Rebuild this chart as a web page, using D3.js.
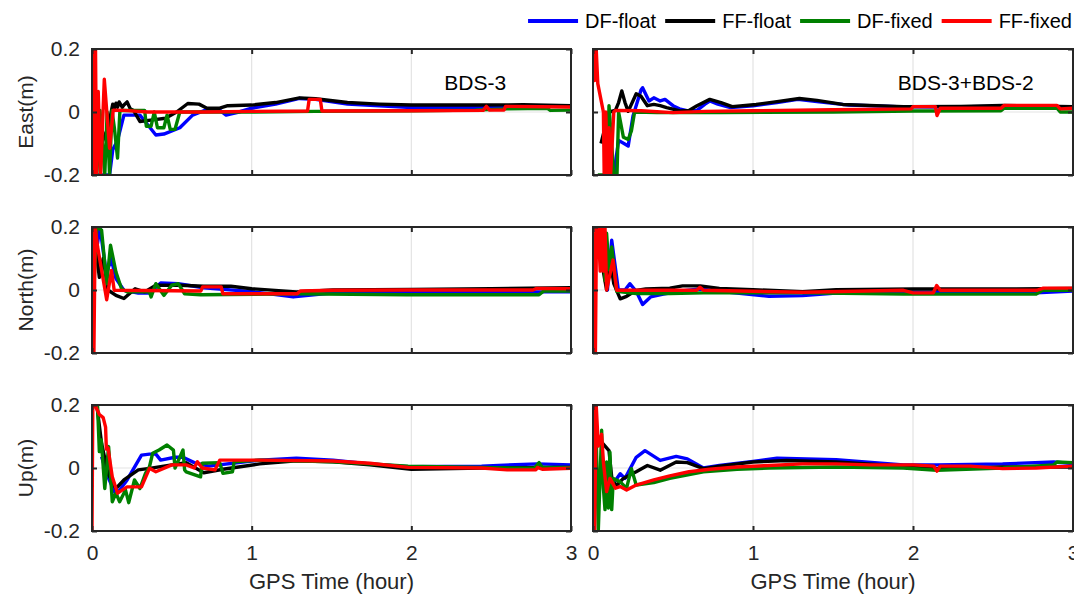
<!DOCTYPE html>
<html>
<head>
<meta charset="utf-8">
<script src="https://cdn.jsdelivr.net/npm/d3@7"></script>
<style>
  html, body { margin: 0; padding: 0; background: #fff; }
  svg { display: block; font-family: "Liberation Sans", Arial, sans-serif; }
</style>
</head>
<body>
<svg id="chart" width="1074" height="596"></svg>
<script>
// ---- Data: [GPS time (hour), error (m)] ----
const seriesNames = ["DF-float", "FF-float", "DF-fixed", "FF-fixed"];
const seriesColors = ["#0000ff", "#000000", "#008000", "#ff0000"];
const rowLabels = ["East(m)", "North(m)", "Up(m)"];
const colTitles = ["BDS-3", "BDS-3+BDS-2"];
const xTicks = [0, 1, 2, 3];
const yTicks = [-0.2, 0, 0.2];

// East, BDS-3
const eastB3_DFfloat = [[0.03,-0.2],[0.06,-0.2],[0.11,-0.2],[0.13,-0.12],[0.16,-0.09],[0.2,-0.01],[0.3,-0.01],[0.34,-0.035],[0.4,-0.073],[0.45,-0.07],[0.55,-0.05],[0.63,-0.01],[0.72,0.008],[0.8,0.006],[0.84,-0.01],[0.92,0.0],[1.0,0.012],[1.15,0.025],[1.3,0.043],[1.4,0.04],[1.6,0.025],[2.0,0.014],[2.4,0.015],[2.7,0.02],[3.0,0.018]];
const eastB3_FFfloat = [[0,-0.2],[0.03,0.05],[0.06,-0.1],[0.1,-0.05],[0.13,0.025],[0.14,0.012],[0.15,0.028],[0.16,0.015],[0.17,0.032],[0.19,0.015],[0.2,0.022],[0.22,0.032],[0.24,0.01],[0.26,0.005],[0.3,-0.03],[0.38,-0.025],[0.46,-0.02],[0.53,0.0],[0.6,0.027],[0.67,0.025],[0.72,0.012],[0.8,0.012],[0.85,0.02],[1.0,0.022],[1.15,0.03],[1.3,0.045],[1.4,0.042],[1.6,0.03],[1.8,0.025],[2.0,0.022],[2.4,0.022],[2.7,0.023],[3.0,0.02]];
const eastB3_DFfixed = [[0.03,-0.2],[0.05,0.005],[0.065,-0.1],[0.08,-0.2],[0.095,0.0],[0.11,-0.2],[0.125,0.005],[0.14,-0.05],[0.16,-0.146],[0.175,0.005],[0.33,0.005],[0.34,-0.045],[0.37,-0.045],[0.39,0.0],[0.41,-0.05],[0.45,-0.05],[0.47,-0.01],[0.49,-0.055],[0.52,-0.055],[0.55,0.0],[0.8,0.0],[1.0,0.0],[1.4,0.002],[2.0,0.004],[2.4,0.006],[2.6,0.01],[2.85,0.012],[2.87,0.005],[3.0,0.006]];
const eastB3_FFfixed = [[0,0.2],[0.005,-0.2],[0.01,0.2],[0.015,-0.2],[0.022,0.2],[0.028,-0.2],[0.039,0.065],[0.054,-0.2],[0.077,0.104],[0.11,-0.115],[0.133,0.006],[0.2,0.005],[0.35,0.0],[0.7,0.0],[1.0,0.002],[1.35,0.003],[1.36,0.04],[1.43,0.04],[1.44,0.003],[2.0,0.004],[2.45,0.005],[2.47,0.018],[2.49,0.006],[2.58,0.006],[2.59,0.018],[3.0,0.016]];

// East, BDS-3+BDS-2
const eastB32_DFfloat = [[0.06,-0.2],[0.13,-0.2],[0.16,-0.09],[0.22,-0.108],[0.25,-0.013],[0.3,0.07],[0.31,0.077],[0.35,0.035],[0.38,0.045],[0.42,0.035],[0.45,0.04],[0.5,0.02],[0.54,0.01],[0.6,0.003],[0.65,0.005],[0.7,0.025],[0.73,0.035],[0.78,0.025],[0.86,0.014],[1.0,0.02],[1.15,0.03],[1.28,0.04],[1.4,0.033],[1.6,0.022],[1.9,0.017],[2.2,0.016],[2.5,0.018],[2.8,0.016],[3.0,0.014]];
const eastB32_FFfloat = [[0.05,-0.1],[0.1,0.0],[0.14,0.005],[0.16,0.03],[0.18,0.067],[0.2,0.03],[0.22,0.002],[0.27,0.058],[0.3,0.05],[0.34,0.02],[0.38,0.024],[0.42,0.02],[0.46,0.014],[0.55,0.003],[0.6,0.005],[0.65,0.02],[0.73,0.04],[0.8,0.03],[0.87,0.017],[1.02,0.024],[1.15,0.033],[1.29,0.043],[1.4,0.037],[1.56,0.024],[1.94,0.017],[2.3,0.018],[2.56,0.021],[3.0,0.017]];
const eastB32_DFfixed = [[0.03,-0.2],[0.09,-0.2],[0.1,0.02],[0.11,-0.05],[0.13,-0.2],[0.15,-0.2],[0.16,0.0],[0.19,-0.08],[0.22,-0.087],[0.24,-0.06],[0.26,0.0],[0.4,-0.002],[0.8,-0.002],[1.5,0.0],[2.0,0.003],[2.55,0.004],[2.57,0.012],[2.9,0.012],[2.92,0.0],[3.0,0.0]];
const eastB32_FFfixed = [[0,0.2],[0.01,0.1],[0.02,0.2],[0.03,0.09],[0.065,0.0],[0.07,-0.2],[0.08,0.0],[0.09,-0.2],[0.1,-0.05],[0.11,-0.2],[0.13,0.0],[0.14,0.005],[0.3,0.004],[0.5,-0.002],[0.7,0.002],[1.0,0.004],[1.5,0.007],[1.99,0.01],[2.0,0.017],[2.14,0.017],[2.15,-0.011],[2.17,0.012],[2.55,0.012],[2.57,0.021],[2.9,0.021],[2.92,0.01],[3.0,0.012]];

// North, BDS-3
const northB3_DFfloat = [[0,0.2],[0.02,0.1],[0.05,0.2],[0.09,0.05],[0.12,0.1],[0.15,0.036],[0.2,-0.001],[0.29,-0.01],[0.36,-0.01],[0.43,0.022],[0.54,0.02],[0.7,0.007],[1.0,-0.005],[1.26,-0.022],[1.5,-0.01],[2.0,-0.006],[2.5,-0.006],[3.0,-0.006]];
const northB3_FFfloat = [[0.02,0.15],[0.046,0.04],[0.07,0.1],[0.1,0.0],[0.15,-0.017],[0.2,-0.027],[0.27,0.004],[0.33,-0.006],[0.4,0.015],[0.55,0.015],[0.7,0.012],[0.87,0.012],[1.0,0.004],[1.28,-0.006],[1.51,0.0],[2.0,0.002],[2.5,0.004],[3.0,0.007]];
const northB3_DFfixed = [[0,-0.2],[0.003,-0.075],[0.03,0.2],[0.06,0.19],[0.092,0.02],[0.116,0.142],[0.15,0.057],[0.185,0.004],[0.22,-0.006],[0.36,-0.006],[0.37,-0.022],[0.4,0.02],[0.45,-0.017],[0.5,0.015],[0.54,0.02],[0.58,-0.012],[0.68,-0.015],[1.28,-0.012],[1.97,-0.015],[2.8,-0.015],[2.83,-0.003],[3.0,-0.003]];
const northB3_FFfixed = [[0,0.2],[0.005,-0.2],[0.012,-0.2],[0.02,0.2],[0.035,0.137],[0.092,-0.031],[0.122,0.062],[0.139,-0.001],[0.682,-0.003],[0.693,0.01],[0.809,0.01],[0.82,-0.012],[1.283,-0.012],[1.306,-0.003],[1.514,-0.001],[1.976,0.0],[2.762,0.0],[2.785,0.005],[3.0,0.004]];

// North, BDS-3+BDS-2
const northB32_DFfloat = [[0.06,0.15],[0.09,0.0],[0.117,0.158],[0.158,0.001],[0.2,0.0],[0.23,0.02],[0.27,-0.004],[0.31,-0.046],[0.36,-0.022],[0.44,-0.013],[0.54,-0.004],[0.67,0.003],[0.79,-0.004],[1.1,-0.02],[1.31,-0.018],[1.52,-0.01],[1.94,-0.007],[2.77,-0.009],[3.0,-0.003]];
const northB32_FFfloat = [[0.05,0.1],[0.085,0.0],[0.106,0.1],[0.13,0.02],[0.17,-0.028],[0.21,-0.02],[0.27,-0.001],[0.33,0.003],[0.48,0.006],[0.56,0.013],[0.67,0.013],[0.79,0.005],[1.0,0.001],[1.31,-0.005],[1.52,0.001],[2.0,0.003],[2.5,0.003],[3.0,0.005]];
const northB32_DFfixed = [[0.03,0.2],[0.065,0.2],[0.075,0.03],[0.085,0.18],[0.1,0.064],[0.117,0.137],[0.148,-0.004],[0.27,-0.011],[0.48,-0.011],[0.69,-0.009],[1.31,-0.009],[1.94,-0.013],[2.77,-0.013],[2.81,-0.001],[3.0,-0.001]];
const northB32_FFfixed = [[0,0.2],[0.005,-0.2],[0.015,-0.2],[0.022,0.2],[0.033,0.2],[0.045,0.06],[0.055,0.2],[0.065,0.06],[0.075,0.2],[0.085,0.0],[0.125,0.095],[0.148,-0.001],[0.648,-0.001],[0.669,0.009],[0.69,-0.001],[1.0,-0.004],[1.315,-0.007],[1.94,-0.001],[2.0,-0.009],[2.127,-0.009],[2.148,0.014],[2.17,-0.001],[2.773,-0.001],[2.815,0.006],[3.0,0.006]];

// Up, BDS-3
const upB3_DFfloat = [[0.06,0.036],[0.1,-0.028],[0.15,-0.086],[0.22,-0.038],[0.31,0.041],[0.36,0.044],[0.4,0.044],[0.43,0.025],[0.52,0.034],[0.57,0.034],[0.64,0.017],[0.73,0.006],[1.05,0.025],[1.28,0.031],[1.51,0.025],[1.74,0.013],[1.98,0.004],[2.44,0.006],[2.79,0.013],[3.0,0.01]];
const upB3_FFfloat = [[0.03,0.2],[0.06,0.078],[0.1,-0.017],[0.15,-0.065],[0.2,-0.038],[0.29,-0.006],[0.36,-0.001],[0.5,0.01],[0.59,0.017],[0.7,-0.015],[0.82,-0.004],[1.05,0.013],[1.28,0.023],[1.51,0.02],[1.74,0.01],[2.0,-0.004],[2.44,0.0],[3.0,0.002]];
const upB3_DFfixed = [[0.01,0.2],[0.035,0.195],[0.046,0.052],[0.058,0.089],[0.08,-0.065],[0.104,0.068],[0.127,-0.107],[0.15,-0.08],[0.173,-0.107],[0.21,-0.07],[0.23,-0.11],[0.266,-0.038],[0.3,-0.065],[0.335,-0.017],[0.36,0.004],[0.38,0.047],[0.42,0.057],[0.47,0.073],[0.51,0.057],[0.52,0.0],[0.57,0.057],[0.58,-0.006],[0.59,-0.012],[0.68,-0.028],[0.69,0.015],[0.8,0.017],[0.82,-0.017],[0.88,-0.012],[0.89,0.02],[1.05,0.025],[1.51,0.02],[1.98,0.006],[2.44,0.002],[2.77,-0.001],[2.8,0.017],[2.82,0.002],[3.0,0.002]];
const upB3_FFfixed = [[0,-0.2],[0.005,0.2],[0.023,0.195],[0.046,0.17],[0.07,0.16],[0.085,0.13],[0.09,0.06],[0.1,0.064],[0.127,-0.028],[0.16,-0.08],[0.22,-0.06],[0.31,-0.06],[0.36,-0.001],[0.4,-0.012],[0.5,0.01],[0.59,0.01],[0.64,0.0],[0.66,0.02],[0.69,0.0],[0.77,-0.006],[0.8,0.025],[1.05,0.025],[1.51,0.022],[1.74,0.015],[1.98,0.002],[2.44,0.0],[2.6,-0.006],[2.78,-0.006],[2.79,0.002],[2.82,-0.004],[3.0,-0.001]];

// Up, BDS-3+BDS-2
const upB32_DFfloat = [[0.08,0.0],[0.127,-0.049],[0.17,-0.018],[0.2,-0.033],[0.27,0.034],[0.325,0.055],[0.42,0.024],[0.52,0.037],[0.59,0.029],[0.69,0.0],[0.79,0.008],[1.0,0.021],[1.15,0.031],[1.52,0.026],[1.94,0.01],[2.15,0.01],[2.56,0.013],[2.88,0.019],[3.0,0.014]];
const upB32_FFfloat = [[0.01,0.112],[0.04,0.09],[0.1,0.055],[0.12,-0.044],[0.15,-0.054],[0.19,-0.033],[0.27,-0.012],[0.34,0.008],[0.42,-0.007],[0.52,0.019],[0.59,0.017],[0.69,-0.002],[0.79,0.006],[1.0,0.019],[1.21,0.024],[1.52,0.019],[1.94,0.006],[2.15,-0.002],[2.56,0.003],[3.0,0.003]];
const upB32_DFfixed = [[0.0,-0.2],[0.02,0.1],[0.033,-0.2],[0.054,0.12],[0.065,-0.064],[0.075,-0.132],[0.085,0.019],[0.096,-0.127],[0.106,0.05],[0.117,-0.132],[0.127,-0.033],[0.17,-0.044],[0.21,-0.064],[0.24,-0.002],[0.27,-0.054],[0.38,-0.046],[0.48,-0.033],[0.69,-0.012],[0.9,-0.004],[1.1,0.0],[1.52,0.003],[1.94,0.0],[2.15,-0.007],[2.56,0.0],[2.88,0.01],[2.9,0.019],[3.0,0.017]];
const upB32_FFfixed = [[0,0.2],[0.01,-0.2],[0.02,0.2],[0.033,0.07],[0.054,0.107],[0.065,0.019],[0.085,-0.075],[0.106,-0.033],[0.14,-0.064],[0.17,-0.059],[0.21,-0.07],[0.27,-0.054],[0.38,-0.038],[0.48,-0.025],[0.6,-0.012],[0.73,-0.004],[0.9,0.003],[1.1,0.008],[1.31,0.013],[1.52,0.013],[1.73,0.01],[2.0,0.01],[2.13,0.006],[2.15,-0.01],[2.17,0.006],[2.36,0.006],[2.56,-0.002],[2.77,0.0],[3.0,0.006]];

// Panel table: rows = component, columns = constellation
const panels = [
  [[eastB3_DFfloat, eastB3_FFfloat, eastB3_DFfixed, eastB3_FFfixed],
   [eastB32_DFfloat, eastB32_FFfloat, eastB32_DFfixed, eastB32_FFfixed]],
  [[northB3_DFfloat, northB3_FFfloat, northB3_DFfixed, northB3_FFfixed],
   [northB32_DFfloat, northB32_FFfloat, northB32_DFfixed, northB32_FFfixed]],
  [[upB3_DFfloat, upB3_FFfloat, upB3_DFfixed, upB3_FFfixed],
   [upB32_DFfloat, upB32_FFfloat, upB32_DFfixed, upB32_FFfixed]]
];

// ---- Layout ----
const colX = [[92, 571], [593, 1073]];
const rowY = [[49, 175], [227, 353], [405, 531]];
const axisColor = "#262626";
const tickFont = 21;

const svg = d3.select("#chart");
const defs = svg.append("defs");

panels.forEach((row, r) => {
  row.forEach((seriesSet, c) => {
    const [x0, x1] = colX[c];
    const [y0, y1] = rowY[r];
    const x = d3.scaleLinear().domain([0, 3]).range([x0, x1]);
    const y = d3.scaleLinear().domain([-0.2, 0.2]).range([y1, y0]);
    const g = svg.append("g");

    // grid
    g.selectAll(".vgrid").data([1, 2]).join("line")
      .attr("x1", d => x(d)).attr("x2", d => x(d))
      .attr("y1", y0).attr("y2", y1)
      .attr("stroke", "#e3e3e3").attr("stroke-width", 1.2);
    g.append("line")
      .attr("x1", x0).attr("x2", x1)
      .attr("y1", y(0)).attr("y2", y(0))
      .attr("stroke", "#e3e3e3").attr("stroke-width", 1.2);

    // series
    const clipId = `clip-${r}-${c}`;
    defs.append("clipPath").attr("id", clipId)
      .append("rect").attr("x", x0).attr("y", y0 - 1)
      .attr("width", x1 - x0).attr("height", y1 - y0 + 2);
    const line = d3.line().x(d => x(d[0])).y(d => y(d[1]));
    const lg = g.append("g").attr("clip-path", `url(#${clipId})`);
    seriesSet.forEach((data, i) => {
      lg.append("path").datum(data)
        .attr("d", line)
        .attr("fill", "none")
        .attr("stroke", seriesColors[i])
        .attr("stroke-width", 3.4)
        .attr("stroke-linejoin", "round");
    });

    // axes with inward ticks
    const styleAxis = sel => {
      sel.select(".domain").remove();
      sel.selectAll(".tick line").attr("stroke", axisColor).attr("stroke-width", 2);
      sel.selectAll("text").attr("fill", axisColor)
        .style("font-size", tickFont + "px")
        .style("font-family", "'Liberation Sans', Arial, sans-serif");
    };
    const fmt = d => String(d);
    g.append("g").attr("transform", `translate(${x0},0)`)
      .call(d3.axisLeft(y).tickValues(yTicks).tickSize(-5).tickPadding(12)
        .tickFormat(c === 0 ? fmt : () => ""))
      .call(styleAxis);
    g.append("g").attr("transform", `translate(${x1},0)`)
      .call(d3.axisRight(y).tickValues(yTicks).tickSize(-5).tickFormat(() => ""))
      .call(styleAxis);
    g.append("g").attr("transform", `translate(0,${y0})`)
      .call(d3.axisTop(x).tickValues(xTicks).tickSize(-5).tickFormat(() => ""))
      .call(styleAxis);
    g.append("g").attr("transform", `translate(0,${y1})`)
      .call(d3.axisBottom(x).tickValues(xTicks).tickSize(-5).tickPadding(14)
        .tickFormat(r === 2 ? fmt : () => ""))
      .call(styleAxis);

    // frame
    g.append("rect")
      .attr("x", x0).attr("y", y0)
      .attr("width", x1 - x0).attr("height", y1 - y0)
      .attr("fill", "none").attr("stroke", axisColor).attr("stroke-width", 2);

    if (c === 0) {
      g.append("text")
        .attr("transform", `translate(${x0 - 66},${(y0 + y1) / 2}) rotate(-90)`)
        .attr("text-anchor", "middle")
        .attr("dy", "0.35em")
        .attr("fill", axisColor)
        .style("font-size", tickFont + "px")
        .text(rowLabels[r]);
    }
    if (r === 0) {
      g.append("text")
        .attr("x", c === 0 ? x(2.40) : x(2.33))
        .attr("y", y0 + 41)
        .attr("text-anchor", "middle")
        .attr("fill", "#000")
        .style("font-size", tickFont + "px")
        .text(colTitles[c]);
    }
    if (r === 2) {
      g.append("text")
        .attr("x", (x0 + x1) / 2)
        .attr("y", y1 + 58)
        .attr("text-anchor", "middle")
        .attr("fill", axisColor)
        .style("font-size", "22px")
        .text("GPS Time (hour)");
    }
  });
});

// ---- Legend ----
const legend = svg.append("g");
const legendRight = 1072;
const lineLen = 50, gapLineText = 7, gapItems = 9;
const items = seriesNames.map((name, i) => {
  const t = legend.append("text")
    .attr("y", 21).attr("dy", "0.35em")
    .attr("fill", "#000")
    .style("font-size", "20px")
    .text(name);
  return { t, w: t.node().getComputedTextLength(), i };
});
let cursor = legendRight;
for (let k = items.length - 1; k >= 0; k--) {
  const it = items[k];
  const tx = cursor - it.w;
  it.t.attr("x", tx);
  const lx1 = tx - gapLineText, lx0 = lx1 - lineLen;
  legend.append("line")
    .attr("x1", lx0).attr("x2", lx1).attr("y1", 21).attr("y2", 21)
    .attr("stroke", seriesColors[it.i]).attr("stroke-width", 4);
  cursor = lx0 - gapItems;
}
</script>
</body>
</html>
